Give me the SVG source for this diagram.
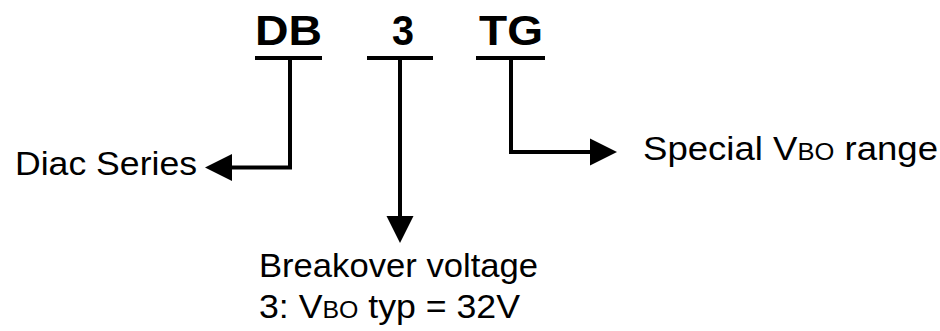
<svg xmlns="http://www.w3.org/2000/svg" width="940" height="331" viewBox="0 0 940 331">
  <defs>
    <marker id="arrow" markerUnits="userSpaceOnUse" markerWidth="28" markerHeight="28" refX="0" refY="13.5" orient="auto" viewBox="0 0 28 27">
      <path d="M0,0 L27,13.5 L0,27 Z" fill="#000"/>
    </marker>
  </defs>
  <style>
    .code { font-family: "Liberation Sans", Arial, sans-serif; font-weight: bold; font-size: 43px; fill: #000; }
    .label { font-family: "Liberation Sans", Arial, sans-serif; font-size: 33px; fill: #000; }
    .sc { font-size: 23px; }
    .bar { stroke: #000; stroke-width: 4; fill: none; }
    .conn { stroke: #000; stroke-width: 4; fill: none; marker-end: url(#arrow); }
  </style>
  <rect width="940" height="331" fill="#fff"/>

  <g id="code-db">
    <text class="code" x="255" y="45" textLength="67" lengthAdjust="spacingAndGlyphs">DB</text>
    <line class="bar" x1="255" y1="58" x2="322" y2="58"/>
  </g>
  <g id="code-3">
    <text class="code" x="392" y="45" textLength="22" lengthAdjust="spacingAndGlyphs">3</text>
    <line class="bar" x1="367" y1="58" x2="433" y2="58"/>
  </g>
  <g id="code-tg">
    <text class="code" x="479" y="45" textLength="64" lengthAdjust="spacingAndGlyphs">TG</text>
    <line class="bar" x1="476" y1="58" x2="545" y2="58"/>
  </g>

  <g id="connectors">
    <path class="conn" d="M290,58 V167.5 H232"/>
    <path class="conn" d="M400,58 V216"/>
    <path class="conn" d="M511,58 V152 H590"/>
  </g>

  <g id="diac-series">
    <text class="label" x="15" y="175" textLength="182" lengthAdjust="spacingAndGlyphs">Diac Series</text>
  </g>
  <g id="breakover">
    <text class="label" x="259" y="277" textLength="279" lengthAdjust="spacingAndGlyphs">Breakover voltage</text>
    <text class="label" x="259" y="318" textLength="261" lengthAdjust="spacingAndGlyphs">3: V<tspan class="sc">BO</tspan> typ = 32V</text>
  </g>
  <g id="special">
    <text class="label" x="643" y="160" textLength="295" lengthAdjust="spacingAndGlyphs">Special V<tspan class="sc">BO</tspan> range</text>
  </g>
</svg>
